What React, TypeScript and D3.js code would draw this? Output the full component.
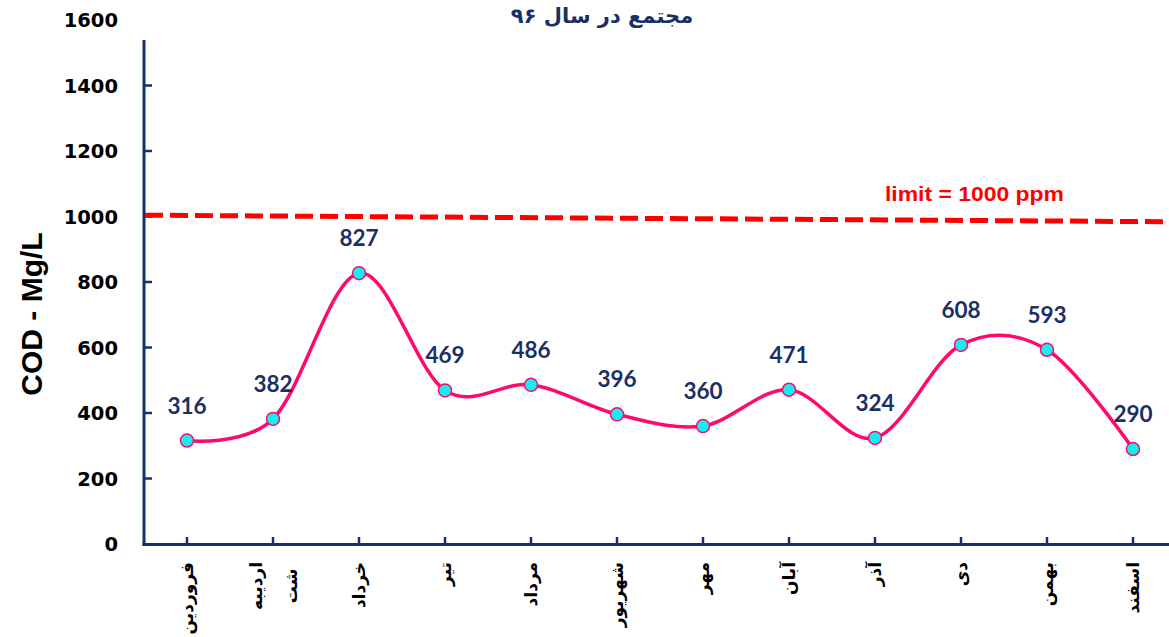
import React, { useLayoutEffect, useRef, useState } from "react";
import * as d3 from "d3";

// ---- data ----
const months = ["فروردین", "اردیبهشت", "خرداد", "تیر", "مرداد", "شهریور", "مهر", "آبان", "آذر", "دی", "بهمن", "اسفند"];
const monthLabelLines = [["فروردین"], ["اردیبه", "شت"], ["خرداد"], ["تیر"], ["مرداد"], ["شهریور"], ["مهر"], ["آبان"], ["آذر"], ["دی"], ["بهمن"], ["اسفند"]];
const codValues = [316, 382, 827, 469, 486, 396, 360, 471, 324, 608, 593, 290];
const yTicks = [0, 200, 400, 600, 800, 1000, 1200, 1400, 1600];
const limitValues = [1004, 984]; // drawn line start / end value
const limitLabel = "limit = 1000 ppm";
const chartTitle = "مجتمع در سال ۹۶";
const yTitle = "COD - Mg/L";

const W = 1169;
const H = 637;
const NAVY = "#1a2f66";
const AXIS = "#13306b";
const PINK = "#ff0a6c";
const CYAN = "#14eef2";
const FA = "'DejaVu Sans', sans-serif";

function MonthLabel({ x, lines }: { x: number; lines: string[] }) {
  const ref = useRef<SVGTextElement>(null);
  const [len, setLen] = useState(0);
  useLayoutEffect(() => {
    if (ref.current) setLen(ref.current.getComputedTextLength());
  }, []);
  const top = 562;
  const fs = 17;
  const lineGap = 35;
  const n = lines.length;
  return (
    <g>
      {lines.map((l, i) => {
        const lx = x + 6 + (i - (n - 1) / 2) * lineGap;
        if (i === 0)
          return (
            <text key={i} ref={ref} transform={`translate(${lx},${top}) rotate(-90)`} textAnchor="end" fontFamily={FA} fontWeight="bold" fontSize={fs} fill="#000">
              {l}
            </text>
          );
        return (
          <text key={i} transform={`translate(${lx},${top + len / 2}) rotate(-90)`} textAnchor="middle" fontFamily={FA} fontWeight="bold" fontSize={fs} fill="#000">
            {l}
          </text>
        );
      })}
    </g>
  );
}

export default function App() {
  const x = d3.scalePoint<string>().domain(months).range([187, 1133]);
  const y = d3.scaleLinear().domain([0, 1600]).range([544, 20]);
  const axisX = 144;
  const pts: [number, number][] = codValues.map((v, i) => [x(months[i]) as number, y(v)]);
  const line = d3.line<[number, number]>().curve(d3.curveCardinal.tension(0));
  const path = line(pts) || "";

  return (
    <svg width={W} height={H} style={{ position: "absolute", left: 0, top: 0, background: "#fff" }}>
      {/* title */}
      <text x={602} y={23} textAnchor="middle" fontFamily={FA} fontWeight="bold" fontSize={21} fill={NAVY}>
        {chartTitle}
      </text>

      {/* y title */}
      <text transform={`translate(42,314) rotate(-90)`} textAnchor="middle" fontFamily="'Liberation Sans', Arial, sans-serif" fontWeight="bold" fontSize={30} fill="#000">
        {yTitle}
      </text>

      {/* y tick labels */}
      {yTicks.map((t) => (
        <text key={t} x={118} y={y(t)} dy="0.36em" textAnchor="end" fontFamily="'DejaVu Sans', sans-serif" fontWeight="bold" fontSize={19.5} fill="#000">
          {t}
        </text>
      ))}

      {/* y ticks */}
      {yTicks.filter((t) => t > 0 && t < 1600).map((t) => (
        <line key={t} x1={axisX} x2={152} y1={y(t)} y2={y(t)} stroke={AXIS} strokeWidth={2.5} />
      ))}

      {/* x ticks */}
      {months.map((m) => (
        <line key={m} x1={x(m)} x2={x(m)} y1={544} y2={537} stroke={AXIS} strokeWidth={2.5} />
      ))}

      {/* axes */}
      <line x1={axisX} x2={axisX} y1={40} y2={545.5} stroke={AXIS} strokeWidth={3} />
      <line x1={axisX - 1.5} x2={W} y1={544.5} y2={544.5} stroke={AXIS} strokeWidth={3} />

      {/* limit line */}
      <line x1={axisX + 1} x2={W} y1={y(limitValues[0])} y2={y(limitValues[1])} stroke="#ff0000" strokeWidth={5} strokeDasharray="18 7" />
      <text x={885} y={201} fontFamily="'Liberation Sans', Arial, sans-serif" fontWeight="bold" fontSize={20} fill="#ff0000" textLength={179} lengthAdjust="spacingAndGlyphs">
        {limitLabel}
      </text>

      {/* series */}
      <path d={path} fill="none" stroke={PINK} strokeWidth={3.5} />
      {pts.map((p, i) => (
        <circle key={i} cx={p[0]} cy={p[1]} r={6.5} fill={CYAN} stroke={PINK} strokeWidth={1.5} />
      ))}
      {pts.map((p, i) => (
        <text key={i} x={p[0]} y={p[1] - 27} textAnchor="middle" fontFamily="Lato, sans-serif" fontWeight="bold" fontSize={22.5} fill={NAVY}>
          {codValues[i]}
        </text>
      ))}

      {/* month labels */}
      {months.map((m, i) => (
        <MonthLabel key={m} x={x(m) as number} lines={monthLabelLines[i]} />
      ))}
    </svg>
  );
}
